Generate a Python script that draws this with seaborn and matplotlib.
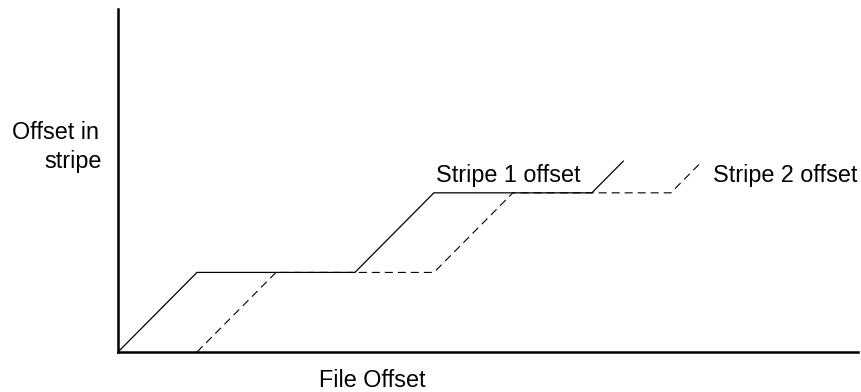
import matplotlib
matplotlib.use("Agg")
import matplotlib.pyplot as plt
import seaborn as sns

# Stripe offset vs. file offset (units of one stripe)
stripe1_x = [0, 1, 3, 4, 6, 6.4]
stripe1_y = [0, 1, 1, 2, 2, 2.4]
stripe2_x = [1, 2, 4, 5, 7, 7.4]
stripe2_y = [0, 1, 1, 2, 2, 2.4]

sns.set_style("white")
plt.rcParams["font.family"] = ["Liberation Sans", "DejaVu Sans"]
plt.rcParams["text.color"] = "black"

fig = plt.figure(figsize=(8.62, 3.92), dpi=100)
ax = fig.add_axes([118 / 862, 40 / 392, 740 / 862, 343 / 392])

sns.lineplot(x=stripe1_x, y=stripe1_y, color="black", linewidth=0.9, sort=False, ax=ax)
sns.lineplot(x=stripe2_x, y=stripe2_y, color="black", linewidth=0.8,
             linestyle=(0, (7.2, 4.5)), sort=False, ax=ax)

ax.set_xlim(0, 9.37)
ax.set_ylim(0, 4.31)
ax.set_xticks([])
ax.set_yticks([])
ax.spines["top"].set_visible(False)
ax.spines["right"].set_visible(False)
for side in ["left", "bottom"]:
    ax.spines[side].set_color("black")
    ax.spines[side].set_linewidth(1.8)

fs = 16.8
ax.text(4.03, 2.14, "Stripe 1 offset", fontsize=fs, color="black", va="baseline", ha="left")
ax.text(7.53, 2.14, "Stripe 2 offset", fontsize=fs, color="black", va="baseline", ha="left")

# Axis labels
fig.text(99 / 862, 1 - 139 / 392, "Offset in", fontsize=fs, color="black", ha="right", va="baseline")
fig.text(102 / 862, 1 - 168 / 392, "stripe", fontsize=fs, color="black", ha="right", va="baseline")
fig.text(372.5 / 862, 1 - 387 / 392, "File Offset", fontsize=fs, color="black", ha="center", va="baseline")

fig.savefig("out.png", dpi=100)
